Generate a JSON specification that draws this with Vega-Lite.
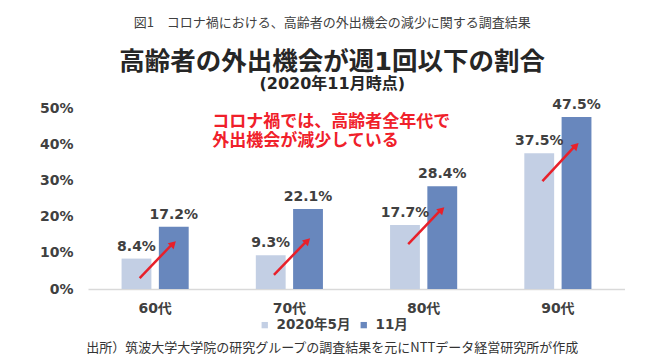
{
  "$schema": "https://vega.github.io/schema/vega-lite/v6.json",
  "background": "white",
  "padding": {"left": 39, "top": 16, "right": 0, "bottom": 0},
  "datasets": {
    "bars": [
      {"age": "60代", "period": "2020年5月", "value": 0.084},
      {"age": "60代", "period": "11月", "value": 0.172},
      {"age": "70代", "period": "2020年5月", "value": 0.093},
      {"age": "70代", "period": "11月", "value": 0.221},
      {"age": "80代", "period": "2020年5月", "value": 0.177},
      {"age": "80代", "period": "11月", "value": 0.284},
      {"age": "90代", "period": "2020年5月", "value": 0.375},
      {"age": "90代", "period": "11月", "value": 0.475}
    ],
    "arrows": [
      {"age": "60代", "from": 0.030, "to": 0.125},
      {"age": "70代", "from": 0.039, "to": 0.133},
      {"age": "80代", "from": 0.124, "to": 0.219},
      {"age": "90代", "from": 0.298, "to": 0.396}
    ]
  },
  "title": {
    "text": "図1　コロナ禍における、高齢者の外出機会の減少に関する調査結果",
    "font": "Noto Sans CJK JP",
    "fontSize": 13,
    "fontWeight": "normal",
    "color": "#404040",
    "anchor": "middle",
    "frame": "bounds",
    "offset": 20
  },
  "resolve": {"legend": {"color": "independent"}},
  "vconcat": [
    {
      "title": {
        "text": "出所）筑波大学大学院の研究グループの調査結果を元にNTTデータ経営研究所が作成",
        "orient": "bottom",
        "font": "Noto Sans CJK JP",
        "fontSize": 13,
        "fontWeight": "normal",
        "color": "#333333",
        "anchor": "middle",
        "frame": "bounds",
        "offset": 10
      },
      "resolve": {"legend": {"color": "independent"}},
      "vconcat": [
        {
          "title": {
            "text": "高齢者の外出機会が週1回以下の割合",
            "subtitle": "(2020年11月時点)",
            "font": "DejaVu Sans, Noto Sans CJK JP",
            "fontSize": 25.5,
            "fontWeight": "bold",
            "color": "#262626",
            "subtitleFont": "DejaVu Sans, Noto Sans CJK JP",
            "subtitleFontSize": 16,
            "subtitleFontWeight": "bold",
            "subtitleColor": "#262626",
            "subtitlePadding": 1,
            "anchor": "middle",
            "frame": "bounds",
            "offset": 6
          },
          "width": 537,
          "height": 181,
          "layer": [
            {
              "data": {"name": "bars"},
              "mark": {"type": "bar"},
              "encoding": {
                "x": {
                  "field": "age", "type": "nominal",
                  "scale": {"domain": ["60代", "70代", "80代", "90代"], "paddingInner": 0.5, "paddingOuter": 0.25},
                  "axis": {
                    "title": null, "labelAngle": 0, "ticks": false, "grid": false,
                    "domain": true, "domainColor": "#d9d9d9", "domainWidth": 1.5,
                    "labelFont": "DejaVu Sans, Noto Sans CJK JP", "labelFontSize": 14, "labelFontWeight": "bold",
                    "labelColor": "#404040", "labelPadding": 12
                  }
                },
                "xOffset": {
                  "field": "period", "type": "nominal",
                  "scale": {"domain": ["2020年5月", "11月"], "paddingInner": 0.2}
                },
                "y": {
                  "field": "value", "type": "quantitative",
                  "scale": {"domain": [0, 0.5], "nice": false},
                  "axis": {
                    "title": null, "tickCount": 5, "format": ".0%",
                    "labelOverlap": false, "labelSeparation": 0, "labelBound": false,
                    "domain": false, "ticks": false, "grid": false,
                    "labelFont": "DejaVu Sans", "labelFontSize": 14, "labelFontWeight": "bold",
                    "labelColor": "#404040", "labelPadding": 15
                  }
                },
                "color": {
                  "field": "period", "type": "nominal",
                  "scale": {"domain": ["2020年5月", "11月"], "range": ["#c3cfe4", "#6887bd"]},
                  "legend": {
                    "title": null, "orient": "none", "legendX": 170, "legendY": 210, "direction": "horizontal",
                    "symbolType": "square", "symbolSize": 40, "symbolStrokeWidth": 0,
                    "labelFont": "DejaVu Sans, Noto Sans CJK JP", "labelFontSize": 13.5, "labelFontWeight": "bold",
                    "labelColor": "#404040", "columnPadding": 6, "labelOffset": 5
                  }
                }
              }
            },
            {
              "data": {"name": "bars"},
              "mark": {"type": "text", "dy": -8, "baseline": "alphabetic", "font": "DejaVu Sans", "fontSize": 14, "fontWeight": "bold", "color": "#404040"},
              "encoding": {
                "x": {"field": "age", "type": "nominal"},
                "xOffset": {"field": "period", "type": "nominal"},
                "y": {"field": "value", "type": "quantitative"},
                "text": {"field": "value", "type": "quantitative", "format": ".1%"}
              }
            },
            {
              "data": {"name": "arrows"},
              "mark": {"type": "rule", "color": "#e8202a", "strokeWidth": 2.5},
              "encoding": {
                "x": {"field": "age", "type": "nominal", "bandPosition": 0.27},
                "x2": {"field": "age", "bandPosition": 0.76},
                "y": {"field": "from", "type": "quantitative"},
                "y2": {"field": "to"}
              }
            },
            {
              "data": {"name": "arrows"},
              "mark": {"type": "point", "shape": "triangle-up", "angle": 45, "filled": true, "size": 70, "color": "#e8202a", "opacity": 1},
              "encoding": {
                "x": {"field": "age", "type": "nominal", "bandPosition": 0.77},
                "y": {"field": "to", "type": "quantitative"}
              }
            },
            {
              "data": {"values": [{}]},
              "mark": {
                "type": "text", "text": "コロナ禍では、高齢者全年代で\n外出機会が減少している", "lineBreak": "\n",
                "align": "left", "baseline": "middle", "lineHeight": 19,
                "font": "Noto Sans CJK JP", "fontSize": 17, "fontWeight": "bold", "color": "#f0202a"
              },
              "encoding": {
                "x": {"datum": "60代", "bandPosition": 1.35},
                "y": {"datum": 0.46}
              }
            }
          ]
        }
      ]
    }
  ],
  "config": {
    "view": {"stroke": null},
    "font": "DejaVu Sans, Noto Sans CJK JP",
    "axisY": {"labelOverlap": false}
  }
}
